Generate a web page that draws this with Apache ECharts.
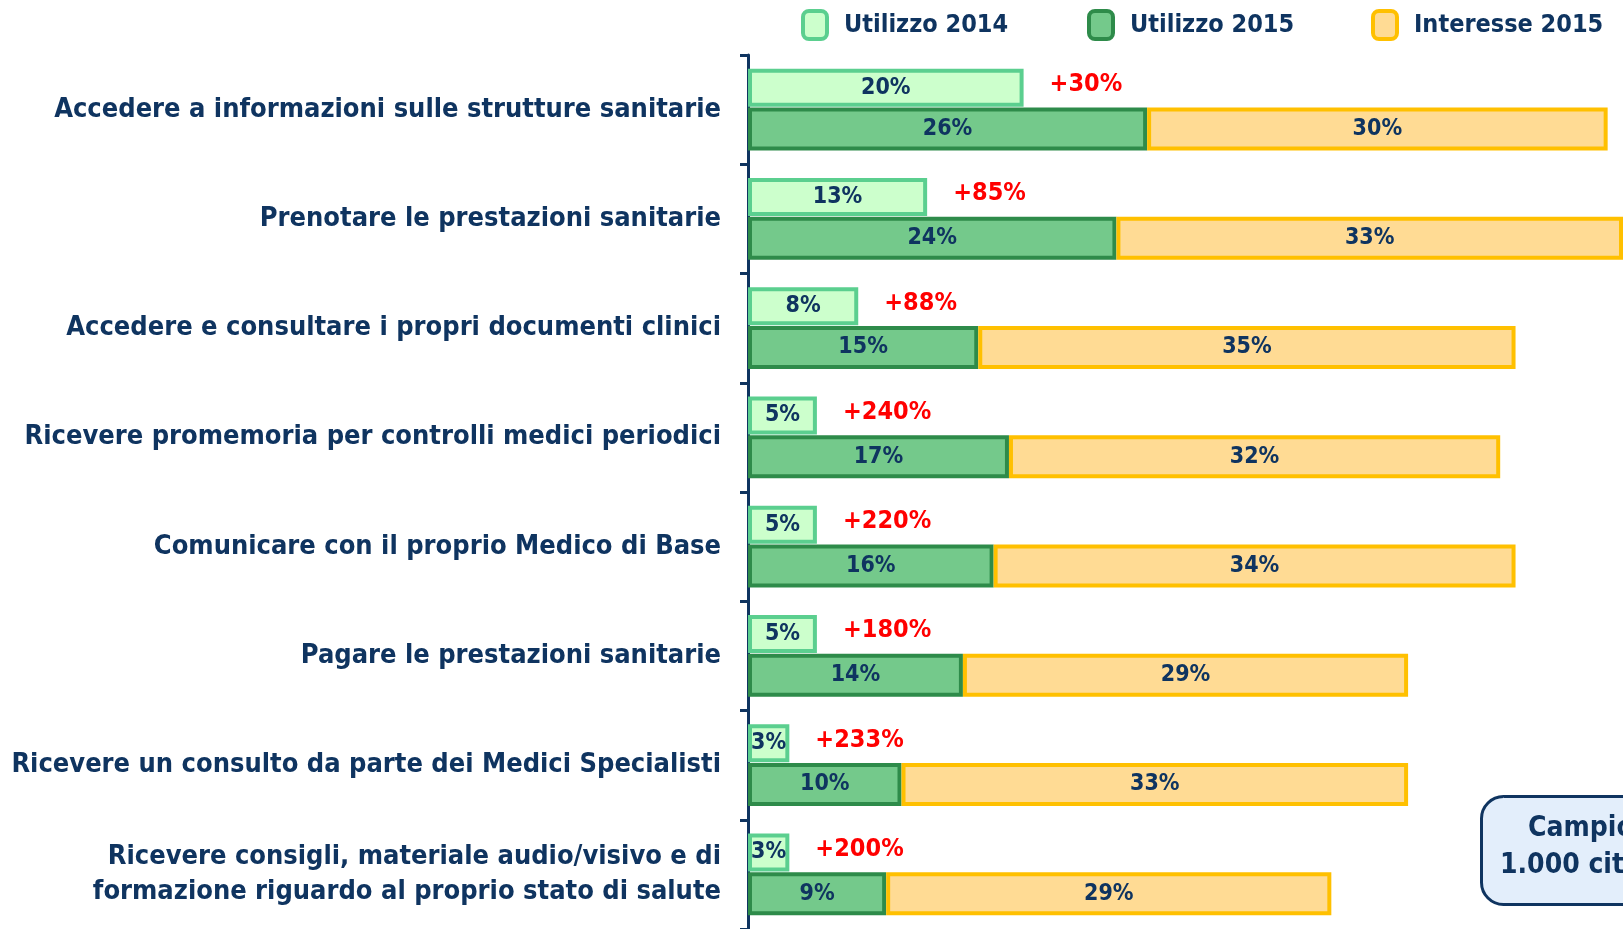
<!DOCTYPE html>
<html>
<head>
<meta charset="utf-8">
<script src="https://cdn.jsdelivr.net/npm/echarts@6/dist/echarts.min.js"></script>
<style>
    html, body { margin: 0; padding: 0; background: #fff; }
    #chart { width: 1623px; height: 929px; }
</style>
</head>
<body>
<div id="chart"></div>
<script>
    // dati
    var categories = [
        'Accedere a informazioni sulle strutture sanitarie',
        'Prenotare le prestazioni sanitarie',
        'Accedere e consultare i propri documenti clinici',
        'Ricevere promemoria per controlli medici periodici',
        'Comunicare con il proprio Medico di Base',
        'Pagare le prestazioni sanitarie',
        'Ricevere un consulto da parte dei Medici Specialisti',
        'Ricevere consigli, materiale audio/visivo e di\nformazione riguardo al proprio stato di salute'
    ];
    var utilizzo2014 = [20, 13, 8, 5, 5, 5, 3, 3];
    var utilizzo2015 = [26, 24, 15, 17, 16, 14, 10, 9];
    var interesse2015 = [30, 33, 35, 32, 34, 29, 33, 29];
    var crescita = ['+30%', '+85%', '+88%', '+240%', '+220%', '+180%', '+233%', '+200%'];
    // barre vuote che portano solo l'etichetta della crescita
    var crescitaBase = [0, 0, 0, 0, 0, 0, 0, 0];

    var navy = '#0F3460';
    var font = '"DejaVu Sans Condensed", "Liberation Sans", sans-serif';

    var chart = echarts.init(document.getElementById('chart'));

    function legendItem(name, left, fill, border) {
        return {
            data: [name],
            top: 4,
            left: left,
            icon: 'roundRect',
            itemWidth: 24,
            itemHeight: 28,
            itemStyle: { color: fill, borderColor: border, borderWidth: 4 },
            textStyle: {
                fontFamily: font, fontSize: 25, fontWeight: 'bold', color: navy,
                padding: [0, 0, 0, 12]
            }
        };
    }

    var inLabel = {
        show: true,
        position: 'inside',
        formatter: '{c}%',
        fontFamily: font,
        fontSize: 23,
        fontWeight: 'bold',
        color: navy
    };

    chart.setOption({
        animation: false,
        legend: [
            legendItem('Utilizzo 2014', 796, '#CCFFCC', '#5BCF8F'),
            legendItem('Utilizzo 2015', 1082, '#74C98B', '#2E8B4A'),
            legendItem('Interesse 2015', 1366, '#FFDB94', '#FFC000')
        ],
        grid: {
            left: 748,
            right: -10,
            top: 55,
            bottom: -3,
            containLabel: false
        },
        xAxis: [
            { type: 'value', min: 0, max: 57, show: false },
            { type: 'value', min: 0, max: 63.5, show: false }
        ],
        yAxis: {
            type: 'category',
            inverse: true,
            data: categories,
            axisLine: { show: true, lineStyle: { color: navy, width: 3 } },
            axisTick: { show: true, length: 8, lineStyle: { color: navy, width: 3 } },
            axisLabel: {
                margin: 27,
                fontFamily: font,
                fontSize: 27,
                fontWeight: 'bold',
                color: navy,
                lineHeight: 35,
                align: 'right'
            }
        },
        series: [
            {
                name: 'Utilizzo 2014',
                type: 'bar',
                xAxisIndex: 1,
                stack: 'u14',
                barWidth: 38,
                barGap: '2%',
                data: utilizzo2014,
                itemStyle: { color: '#CCFFCC', borderColor: '#5BCF8F', borderWidth: 4 },
                label: inLabel
            },
            {
                name: 'crescita',
                type: 'bar',
                xAxisIndex: 1,
                stack: 'u14',
                barWidth: 38,
                data: crescitaBase,
                itemStyle: { color: 'transparent' },
                label: {
                    show: true,
                    position: 'right',
                    distance: 26,
                    offset: [0, -3],
                    formatter: function (p) { return crescita[p.dataIndex]; },
                    fontFamily: font,
                    fontSize: 25,
                    fontWeight: 'bold',
                    color: '#FF0000'
                }
            },
            {
                name: 'Utilizzo 2015',
                type: 'bar',
                xAxisIndex: 0,
                stack: 'u15',
                barWidth: 43,
                data: utilizzo2015,
                itemStyle: { color: '#74C98B', borderColor: '#2E8B4A', borderWidth: 4 },
                label: inLabel
            },
            {
                name: 'Interesse 2015',
                type: 'bar',
                xAxisIndex: 0,
                stack: 'u15',
                barWidth: 43,
                data: interesse2015,
                itemStyle: { color: '#FFDB94', borderColor: '#FFC000', borderWidth: 4 },
                label: inLabel
            }
        ],
        graphic: [
            {
                type: 'rect',
                left: 1480,
                top: 795,
                shape: { width: 200, height: 108, r: 22 },
                style: { fill: '#E3EEFB', stroke: navy, lineWidth: 3 }
            },
            {
                type: 'text',
                left: 1528,
                top: 815,
                style: { text: 'Campione', font: 'bold 28px ' + font, fill: navy }
            },
            {
                type: 'text',
                left: 1500,
                top: 852,
                style: { text: '1.000 cittadini', font: 'bold 28px ' + font, fill: navy }
            }
        ]
    });
</script>
</body>
</html>
